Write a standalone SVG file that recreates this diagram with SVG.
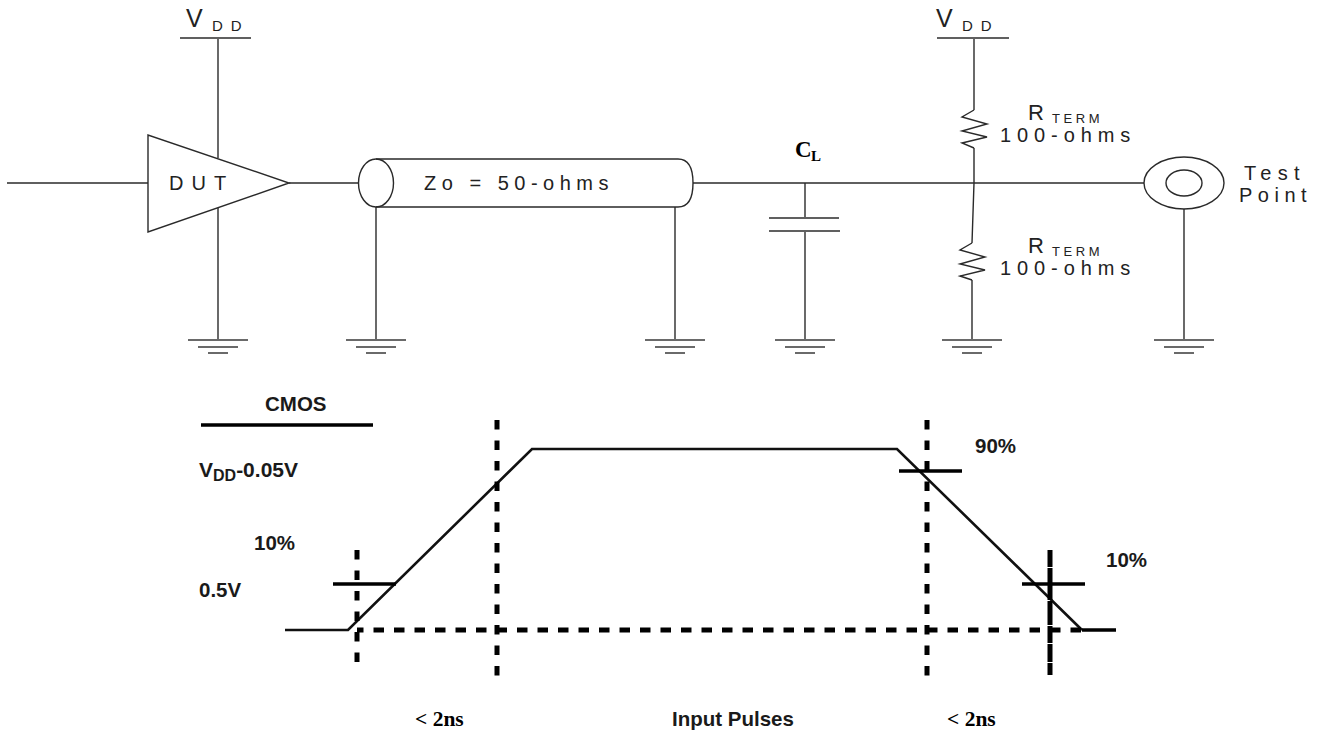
<svg xmlns="http://www.w3.org/2000/svg" width="1321" height="736" viewBox="0 0 1321 736">
<style>
.w{fill:none;stroke:#2a2a2a;stroke-width:1.4}
.b{fill:none;stroke:#606060;stroke-width:2}
.g{fill:none;stroke:#6a6a6a;stroke-width:2}
.p{fill:none;stroke:#111;stroke-width:2.6}
.t{fill:none;stroke:#000;stroke-width:3.4}
.d{fill:none;stroke:#000;stroke-width:5;stroke-dasharray:10.500 10;stroke-dashoffset:4}
.v{fill:none;stroke:#000;stroke-width:5;stroke-dasharray:9.500 11}
text{font-family:"Liberation Sans",Arial,sans-serif;fill:#222}
.c{font-size:20px;letter-spacing:5.500px}
.u{font-size:15px;letter-spacing:8px}
.vv{font-size:25px}
.rr{font-size:22px}
.s{font-size:13px;letter-spacing:3.600px}
.h{font-size:20.500px;font-weight:bold;fill:#1a1a1a}
.r{font-family:"Liberation Serif","Times New Roman",serif;font-weight:bold;fill:#000}
</style>
<defs>
<g id="gnd"><path class="g" d="M-30 0H30"/><path class="g" d="M-20 7H20"/><path class="g" d="M-10 13H10"/></g>
</defs>
<rect width="1321" height="736" fill="#fff"/>
<g id="connectors">
<path class="w" d="M7 183H148"/>
<path class="w" d="M218 38V158"/>
<path class="w" d="M218 208V340"/>
<path class="w" d="M289 183H359"/>
<path class="w" d="M376 207V340"/>
<path class="w" d="M675 207V340"/>
<path class="w" d="M693 183H1144"/>
<path class="w" d="M805 183V218"/>
<path class="w" d="M805 231V340"/>
<path class="w" d="M974 38V110"/>
<path class="w" d="M974 148V183L972 243"/>
<path class="w" d="M972 280V340"/>
<path class="w" d="M1184 209V340"/>
</g>
<g id="vdd-left"><path class="b" d="M180 38H251"/><text class="vv" x="186" y="27">V</text><text class="u" x="212" y="31">DD</text></g>
<g id="vdd-right"><path class="b" d="M937 38H1009"/><text class="vv" x="936" y="27">V</text><text class="u" x="962" y="31">DD</text></g>
<g id="dut"><path class="w" d="M148 135V232L289 183Z"/><text class="c" x="169" y="190" style="letter-spacing:8px">DUT</text></g>
<g id="line"><path class="w" d="M376 159H678Q693 159 693 183Q693 207 678 207H376"/><ellipse class="w" cx="376" cy="183" rx="17.500" ry="24"/><text class="c" x="424" y="190">Zo = 50-ohms</text></g>
<g id="gnd1"><use href="#gnd" x="218" y="340"/></g>
<g id="gnd2"><use href="#gnd" x="376" y="340"/></g>
<g id="gnd3"><use href="#gnd" x="675" y="340"/></g>
<g id="gnd4"><use href="#gnd" x="805" y="340"/></g>
<g id="gnd5"><use href="#gnd" x="972" y="340"/></g>
<g id="gnd6"><use href="#gnd" x="1184" y="340"/></g>
<g id="cap"><path class="b" d="M769 218H839"/><path class="b" d="M769 231H840"/><text class="r" x="795" y="157" font-size="23">C</text><text class="r" x="811" y="161" font-size="15">L</text></g>
<g id="r1"><path class="w" d="M974 110L962 117L987 124L962 131L987 137L962 143L974 148"/><text class="rr" x="1028" y="120">R</text><text class="s" x="1052" y="123">TERM</text><text class="c" x="1000" y="142" style="letter-spacing:5.900px">100-ohms</text></g>
<g id="r2"><path class="w" d="M972 243L960 250L985 257L960 264L985 270L960 276L972 280"/><text class="rr" x="1028" y="253">R</text><text class="s" x="1052" y="256">TERM</text><text class="c" x="1000" y="275" style="letter-spacing:5.900px">100-ohms</text></g>
<g id="test"><ellipse class="w" cx="1184" cy="183" rx="40" ry="26"/><ellipse class="w" cx="1184" cy="183" rx="18" ry="13"/><text class="c" x="1244" y="180" style="letter-spacing:6.300px">Test</text><text class="c" x="1239" y="202">Point</text></g>
<g id="pulse">
<path class="t" d="M201 425H373"/>
<text class="h" x="265" y="411">CMOS</text>
<text class="h" x="199" y="477" style="font-size:21px">V<tspan font-size="16" dy="4">DD</tspan><tspan dy="-4">-0.05V</tspan></text>
<text class="h" x="254" y="550">10%</text>
<text class="h" x="199" y="597">0.5V</text>
<text class="h" x="975" y="453">90%</text>
<text class="h" x="1106" y="567">10%</text>
<text class="h" x="672" y="726">Input Pulses</text>
<text class="r" x="415" y="726" font-size="21.500">&lt; 2ns</text>
<text class="r" x="947" y="726" font-size="21.500">&lt; 2ns</text>
<path class="p" d="M285 630H348L532 449H897L1082 630"/>
<path class="t" d="M1082 630H1116"/>
<path class="t" d="M333 584H396"/>
<path class="t" d="M899 471H962"/>
<path class="t" d="M1022 584H1085"/>
<path class="d" d="M357 630H1090"/>
<path class="v" d="M357 550V668"/>
<path class="v" d="M497 420V676"/>
<path class="v" d="M927 420V676"/>
<path class="v" d="M1050 550V675" style="stroke-dasharray:17 1 32 1 24 1 17 1 18 1 13"/>
</g>
</svg>
